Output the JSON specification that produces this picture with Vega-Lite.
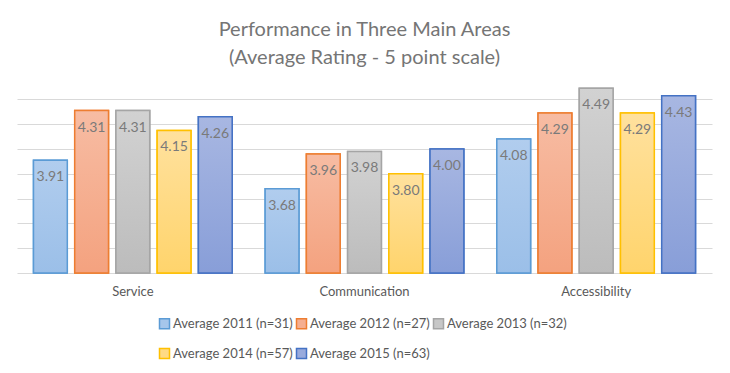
{
  "$schema": "https://vega.github.io/schema/vega-lite/v6.json",
  "width": 695,
  "height": 186,
  "autosize": {"type": "none"},
  "padding": {"left": 17, "top": 87, "right": 18, "bottom": 100},
  "background": "white",
  "config": {
    "font": "Lato",
    "view": {"stroke": null},
    "axis": {"domain": false, "ticks": false}
  },
  "title": {
    "text": ["Performance in Three Main Areas", "(Average Rating - 5 point scale)"],
    "fontSize": 20,
    "fontWeight": "normal",
    "color": "#757575",
    "lineHeight": 28,
    "anchor": "middle",
    "offset": 19
  },
  "data": {
    "values": [
      {"area": "Service", "series": "Average 2011 (n=31)", "value": 3.91},
      {"area": "Service", "series": "Average 2012 (n=27)", "value": 4.31},
      {"area": "Service", "series": "Average 2013 (n=32)", "value": 4.31},
      {"area": "Service", "series": "Average 2014 (n=57)", "value": 4.15},
      {"area": "Service", "series": "Average 2015 (n=63)", "value": 4.26},
      {"area": "Communication", "series": "Average 2011 (n=31)", "value": 3.68},
      {"area": "Communication", "series": "Average 2012 (n=27)", "value": 3.96},
      {"area": "Communication", "series": "Average 2013 (n=32)", "value": 3.98},
      {"area": "Communication", "series": "Average 2014 (n=57)", "value": 3.80},
      {"area": "Communication", "series": "Average 2015 (n=63)", "value": 4.00},
      {"area": "Accessibility", "series": "Average 2011 (n=31)", "value": 4.08},
      {"area": "Accessibility", "series": "Average 2012 (n=27)", "value": 4.29},
      {"area": "Accessibility", "series": "Average 2013 (n=32)", "value": 4.49},
      {"area": "Accessibility", "series": "Average 2014 (n=57)", "value": 4.29},
      {"area": "Accessibility", "series": "Average 2015 (n=63)", "value": 4.43}
    ]
  },
  "encoding": {
    "x": {
      "field": "area", "type": "nominal",
      "sort": ["Service", "Communication", "Accessibility"],
      "scale": {"paddingInner": 0, "paddingOuter": 0},
      "axis": {"title": null, "labelAngle": 0, "labelFontSize": 13, "labelColor": "#595959", "labelPadding": 12, "grid": false}
    },
    "xOffset": {
      "field": "series", "type": "nominal",
      "scale": {"paddingInner": 0.18, "paddingOuter": 0.4}
    },
    "y": {
      "field": "value", "type": "quantitative",
      "scale": {"domain": [3, 4.5], "nice": false, "zero": false},
      "axis": {"title": null, "labels": false, "values": [3, 3.2, 3.4, 3.6, 3.8, 4.0, 4.2, 4.4], "gridColor": "#d9d9d9", "gridWidth": 1}
    }
  },
  "layer": [
    {
      "mark": {"type": "bar", "strokeWidth": 1.5, "clip": false},
      "encoding": {
        "y2": {"datum": 3},
        "fill": {
          "field": "series", "type": "nominal",
          "scale": {"range": ["#a6c6eb", "#f5ae90", "#c7c7c7", "#ffda85", "#98aadd"]},
          "legend": {
            "title": null,
            "orient": "none",
            "legendX": 141,
            "legendY": 230,
            "direction": "horizontal",
            "columns": 3,
            "symbolType": "square",
            "symbolSize": 100,
            "symbolStrokeWidth": 1.5,
            "labelFontSize": 13,
            "labelColor": "#595959",
            "labelOffset": 2,
            "columnPadding": 0,
            "rowPadding": 13,
            "labelLimit": 300,
            "encode": {"symbols": {"update": {"stroke": {"scale": "stroke", "field": "value"}}}}
          }
        },
        "stroke": {
          "field": "series", "type": "nominal",
          "scale": {"range": ["#5b9bd5", "#ed7d31", "#a5a5a5", "#ffc000", "#4472c4"]},
          "legend": null
        }
      }
    },
    {
      "transform": [{"filter": "datum.series === 'Average 2011 (n=31)'"}],
      "mark": {"type": "bar", "strokeWidth": 1.5, "clip": false, "stroke": "#5b9bd5",
        "fill": {"gradient": "linear", "x1": 0, "y1": 0, "x2": 0, "y2": 1, "stops": [{"offset": 0, "color": "#b1cdee"}, {"offset": 1, "color": "#9bbfe8"}]}},
      "encoding": {"y2": {"datum": 3}}
    },
    {
      "transform": [{"filter": "datum.series === 'Average 2012 (n=27)'"}],
      "mark": {"type": "bar", "strokeWidth": 1.5, "clip": false, "stroke": "#ed7d31",
        "fill": {"gradient": "linear", "x1": 0, "y1": 0, "x2": 0, "y2": 1, "stops": [{"offset": 0, "color": "#f7bca3"}, {"offset": 1, "color": "#f4a27f"}]}},
      "encoding": {"y2": {"datum": 3}}
    },
    {
      "transform": [{"filter": "datum.series === 'Average 2013 (n=32)'"}],
      "mark": {"type": "bar", "strokeWidth": 1.5, "clip": false, "stroke": "#a5a5a5",
        "fill": {"gradient": "linear", "x1": 0, "y1": 0, "x2": 0, "y2": 1, "stops": [{"offset": 0, "color": "#d2d2d2"}, {"offset": 1, "color": "#bcbcbc"}]}},
      "encoding": {"y2": {"datum": 3}}
    },
    {
      "transform": [{"filter": "datum.series === 'Average 2014 (n=57)'"}],
      "mark": {"type": "bar", "strokeWidth": 1.5, "clip": false, "stroke": "#ffc000",
        "fill": {"gradient": "linear", "x1": 0, "y1": 0, "x2": 0, "y2": 1, "stops": [{"offset": 0, "color": "#ffe19e"}, {"offset": 1, "color": "#ffd46c"}]}},
      "encoding": {"y2": {"datum": 3}}
    },
    {
      "transform": [{"filter": "datum.series === 'Average 2015 (n=63)'"}],
      "mark": {"type": "bar", "strokeWidth": 1.5, "clip": false, "stroke": "#4472c4",
        "fill": {"gradient": "linear", "x1": 0, "y1": 0, "x2": 0, "y2": 1, "stops": [{"offset": 0, "color": "#a8b7e2"}, {"offset": 1, "color": "#889ed8"}]}},
      "encoding": {"y2": {"datum": 3}}
    },
    {
      "mark": {"type": "text", "dy": 17, "baseline": "middle", "fontSize": 14, "color": "#7a7a7a"},
      "encoding": {
        "text": {"field": "value", "type": "quantitative", "format": ".2f"}
      }
    }
  ]
}
